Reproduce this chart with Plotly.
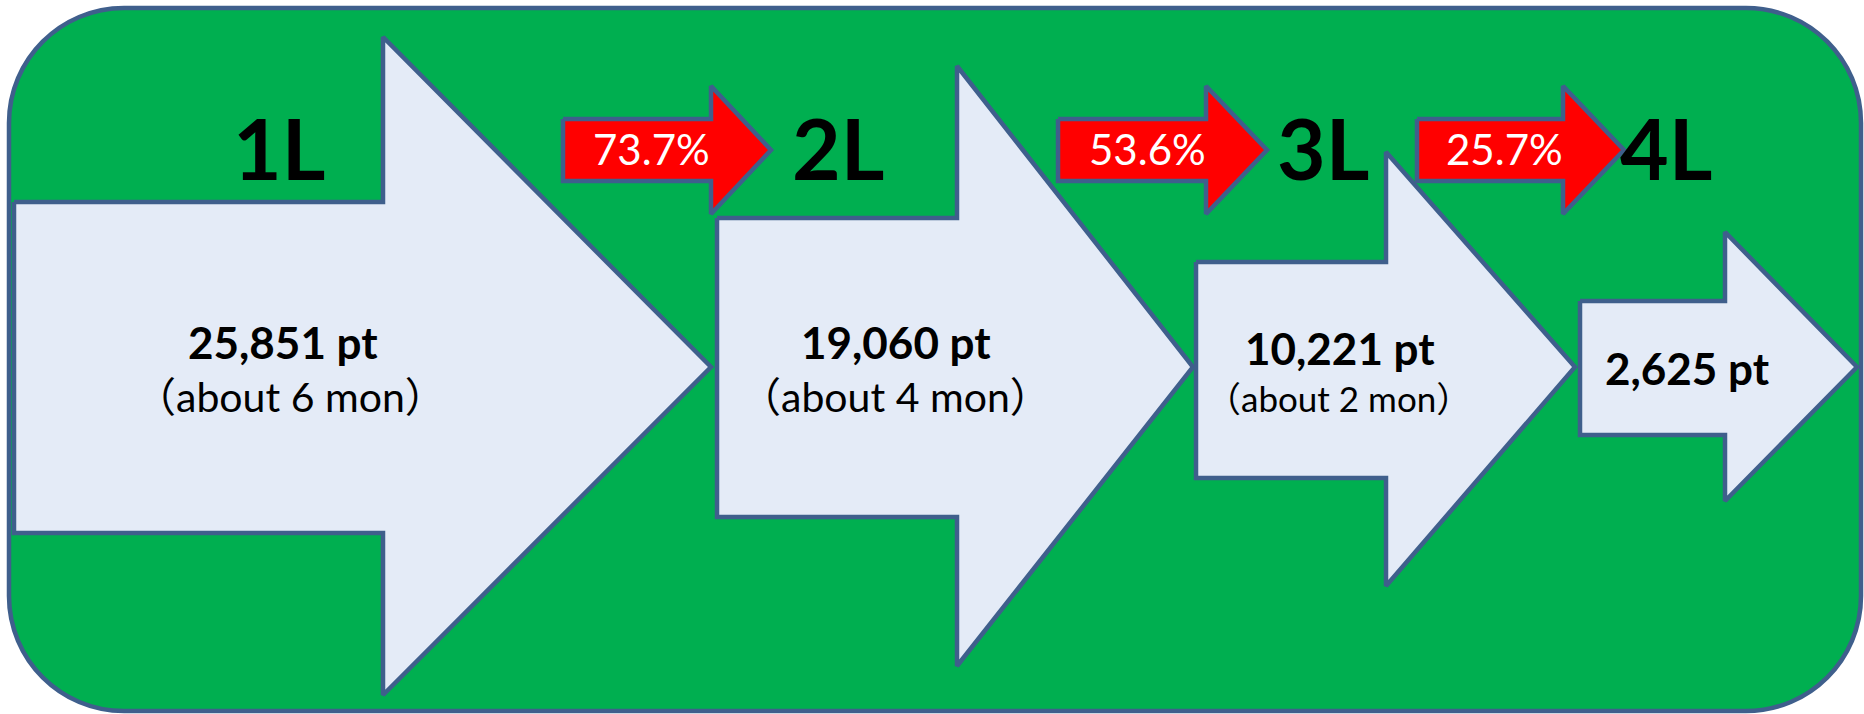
import plotly.graph_objects as go

W, H = 1864, 714

# stage texts
stage_labels = ["1L", "2L", "3L", "4L"]
stage_points = ["25,851 pt", "19,060 pt", "10,221 pt", "2,625 pt"]
stage_duration = ["（about 6 mon）", "（about 4 mon）", "（about 2 mon）", ""]
move_rates = ["73.7%", "53.6%", "25.7%"]

# big arrows (pixel space of the picture)
arrow_left = [14, 717, 1196, 1580]
arrow_head_base = [383, 957, 1386, 1725]
arrow_tip = [711, 1193, 1575, 1857]
arrow_shaft_top = [202, 218, 262, 301]
arrow_shaft_bottom = [533, 517, 478, 435]
arrow_head_top = [37, 66, 152, 232]
arrow_head_bottom = [695, 666, 586, 501]
arrow_mid_y = 367

# small red arrows
red_left = [563, 1058, 1417]
red_head_base = [711, 1206, 1563]
red_tip = [771, 1267, 1624]
red_shaft_top, red_shaft_bottom = 119, 181
red_head_top, red_head_bottom = 86, 214
red_mid_y = 150

# text anchors
label_x = [279, 838, 1323, 1666]
label_y = 147
rate_x = [651, 1147, 1504]
rate_y = 149
points_x = [283, 896, 1340, 1687]
points_y = [342, 342, 348, 368]
points_size = 44
duration_x = [290, 895, 1338, 0]
duration_y = [396, 396, 398, 0]
duration_size = [41, 41, 35, 35]

# outer box
box = dict(x0=9, y0=8, x1=1861, y1=711, r=115)

GREEN = "#00AF50"
EDGE = "#3F5F8C"
PALE = "#E4EBF7"
RED = "#FF0000"
FONT = "Lato, 'Noto Sans CJK JP', sans-serif"


def arrow_xy(l, hb, tip, st, sb, ht, hbm, my):
    xs = [l, hb, hb, tip, hb, hb, l, l]
    ys = [st, st, ht, my, hbm, sb, sb, st]
    return xs, ys


def rounded_path(x0, y0, x1, y1, r):
    k = 0.5523 * r
    return (f"M {x0 + r},{y0} L {x1 - r},{y0} "
            f"C {x1 - r + k},{y0} {x1},{y0 + r - k} {x1},{y0 + r} "
            f"L {x1},{y1 - r} "
            f"C {x1},{y1 - r + k} {x1 - r + k},{y1} {x1 - r},{y1} "
            f"L {x0 + r},{y1} "
            f"C {x0 + r - k},{y1} {x0},{y1 - r + k} {x0},{y1 - r} "
            f"L {x0},{y0 + r} "
            f"C {x0},{y0 + r - k} {x0 + r - k},{y0} {x0 + r},{y0} Z")


fig = go.Figure()

for i in range(len(stage_labels)):
    xs, ys = arrow_xy(arrow_left[i], arrow_head_base[i], arrow_tip[i],
                      arrow_shaft_top[i], arrow_shaft_bottom[i],
                      arrow_head_top[i], arrow_head_bottom[i], arrow_mid_y)
    fig.add_trace(go.Scatter(x=xs, y=ys, mode="lines", fill="toself",
                             fillcolor=PALE, line={"color": EDGE, "width": 4.5},
                             hoverinfo="skip", showlegend=False))

for i in range(len(move_rates)):
    xs, ys = arrow_xy(red_left[i], red_head_base[i], red_tip[i],
                      red_shaft_top, red_shaft_bottom,
                      red_head_top, red_head_bottom, red_mid_y)
    fig.add_trace(go.Scatter(x=xs, y=ys, mode="lines", fill="toself",
                             fillcolor=RED, line={"color": EDGE, "width": 4.5},
                             hoverinfo="skip", showlegend=False))

fig.add_shape(type="path", path=rounded_path(**box), xref="x", yref="y",
              fillcolor=GREEN, line={"color": EDGE, "width": 4.5}, layer="below")

for i, lab in enumerate(stage_labels):
    fig.add_annotation(x=label_x[i], y=label_y, text=f"<b>{lab}</b>", showarrow=False,
                       font={"family": FONT, "size": 84, "color": "black", "weight": 900})
    fig.add_annotation(x=points_x[i], y=points_y[i], text=f"<b>{stage_points[i]}</b>",
                       showarrow=False,
                       font={"family": FONT, "size": points_size, "color": "black"})
    if stage_duration[i]:
        fig.add_annotation(x=duration_x[i], y=duration_y[i], text=stage_duration[i],
                           showarrow=False,
                           font={"family": FONT, "size": duration_size[i], "color": "black"})

for i, rate in enumerate(move_rates):
    fig.add_annotation(x=rate_x[i], y=rate_y, text=rate, showarrow=False,
                       font={"family": FONT, "size": 42, "color": "white"})

fig.update_layout(
    width=W, height=H, margin={"l": 0, "r": 0, "t": 0, "b": 0},
    paper_bgcolor="white", plot_bgcolor="white",
    xaxis={"range": [0, W], "visible": False, "fixedrange": True},
    yaxis={"range": [H, 0], "visible": False, "fixedrange": True},
    showlegend=False,
)

# the page body has a default 8px margin; drop it so the figure sits at 0,0
fig.write_html("out.html", config={"displayModeBar": False},
               post_script="document.body.style.margin='0';document.body.style.overflow='hidden';")
